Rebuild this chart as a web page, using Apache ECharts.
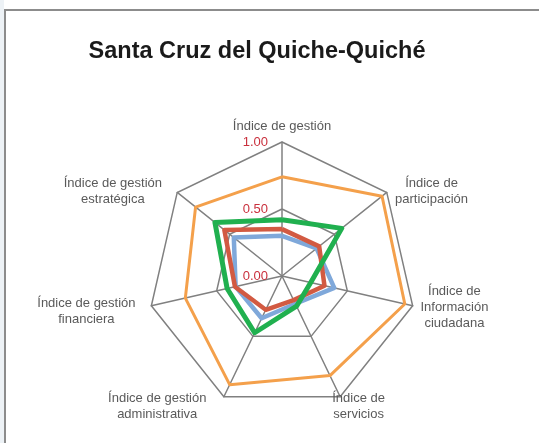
<!DOCTYPE html>
<html>
<head>
<meta charset="utf-8">
<script src="https://cdn.jsdelivr.net/npm/echarts@6/dist/echarts.min.js"></script>
<style>
    body { margin: 0; background: #fff; }
    #strip { position: absolute; left: 0; top: 0; width: 4px; height: 443px; background: #edf2f6; }
    #frame { position: absolute; left: 4px; top: 9px; width: 600px; height: 500px; border: 2px solid #8c8c8c; }
    #container { position: absolute; left: 0; top: 0; width: 539px; height: 443px; }
</style>
</head>
<body>
<div id="strip"></div>
<div id="frame"></div>
<div id="container"></div>
<script>
// ejes en el orden en que ECharts los dibuja (desde arriba, sentido antihorario)
var indicadores = [
    'Índice de gestión',
    'Índice de gestión\nestratégica',
    'Índice de gestión\nfinanciera',
    'Índice de gestión\nadministrativa',
    'Índice de\nservicios',
    'Índice de\nInformación\nciudadana',
    'Índice de\nparticipación'
];
var serieNaranja = [0.74, 0.825, 0.74, 0.90, 0.825, 0.94, 0.955];
var serieAzul = [0.30, 0.46, 0.355, 0.35, 0.23, 0.40, 0.33];
var serieRoja = [0.35, 0.55, 0.36, 0.28, 0.20, 0.325, 0.355];
var serieVerde = [0.42, 0.64, 0.42, 0.47, 0.25, 0.22, 0.57];

var titulo = 'Santa Cruz del Quiche-Quiché';

// ajuste fino de la posición de cada nombre de eje (solo estilo)
var estiloNombres = [
    {},
    {padding: [8, 9, 0, 0]},
    {padding: [8, 8, 0, 0]},
    {padding: [4, 14, 0, 0]},
    {align: 'center', padding: [4, 0, 0, 30]},
    {},
    {padding: [8, 0, 0, 2]}
];

var indicator = new Array();
for (var i = 0; i < indicadores.length; i++) {
    var ind = {name: indicadores[i], min: 0, max: 1, nameTextStyle: estiloNombres[i]};
    if (i == 0) {
        // solo el eje de arriba lleva las etiquetas 0.00 / 0.50 / 1.00
        ind.axisLabel = {
            show: true,
            margin: 14,
            color: '#c9303d',
            fontSize: 13,
            fontFamily: 'Liberation Sans',
            formatter: function (v) { return v.toFixed(2); }
        };
    }
    indicator.push(ind);
}

function linea(nombre, valores, color, ancho) {
    return {
        name: nombre,
        value: valores,
        symbol: 'none',
        lineStyle: {color: color, width: ancho},
        itemStyle: {color: color}
    };
}

var myChart = echarts.init(document.getElementById('container'));
var option = {
    animation: false,
    title: {
        text: titulo,
        left: 252,
        top: 35,
        textAlign: 'center',
        textStyle: {
            fontFamily: 'Liberation Sans',
            fontWeight: 'bold',
            fontSize: 23.5,
            color: '#1a1a1a'
        }
    },
    radar: {
        center: [282, 276],
        radius: 134,
        startAngle: 90,
        splitNumber: 2,
        shape: 'polygon',
        nameGap: 8,
        indicator: indicator,
        axisName: {
            color: '#5a5a5a',
            fontSize: 13,
            fontFamily: 'Liberation Sans',
            lineHeight: 16,
            formatter: function (txt) {
                return txt.split('\n').map(function (l) { return '{c|' + l + '}'; }).join('\n');
            },
            rich: {
                c: {align: 'center', color: '#5a5a5a', fontSize: 13, fontFamily: 'Liberation Sans', lineHeight: 16}
            }
        },
        axisLine: {lineStyle: {color: '#808080', width: 1.5}},
        splitLine: {lineStyle: {color: '#808080', width: 1.5}},
        splitArea: {show: false},
        axisTick: {show: false},
        axisLabel: {show: false}
    },
    series: [{
        type: 'radar',
        silent: true,
        data: [
            linea('naranja', serieNaranja, '#f4a04b', 3),
            linea('azul', serieAzul, '#7fa8da', 4.5),
            linea('roja', serieRoja, '#d25a42', 4.5),
            linea('verde', serieVerde, '#20b04f', 5)
        ]
    }]
};

myChart.setOption(option);
</script>
</body>
</html>
